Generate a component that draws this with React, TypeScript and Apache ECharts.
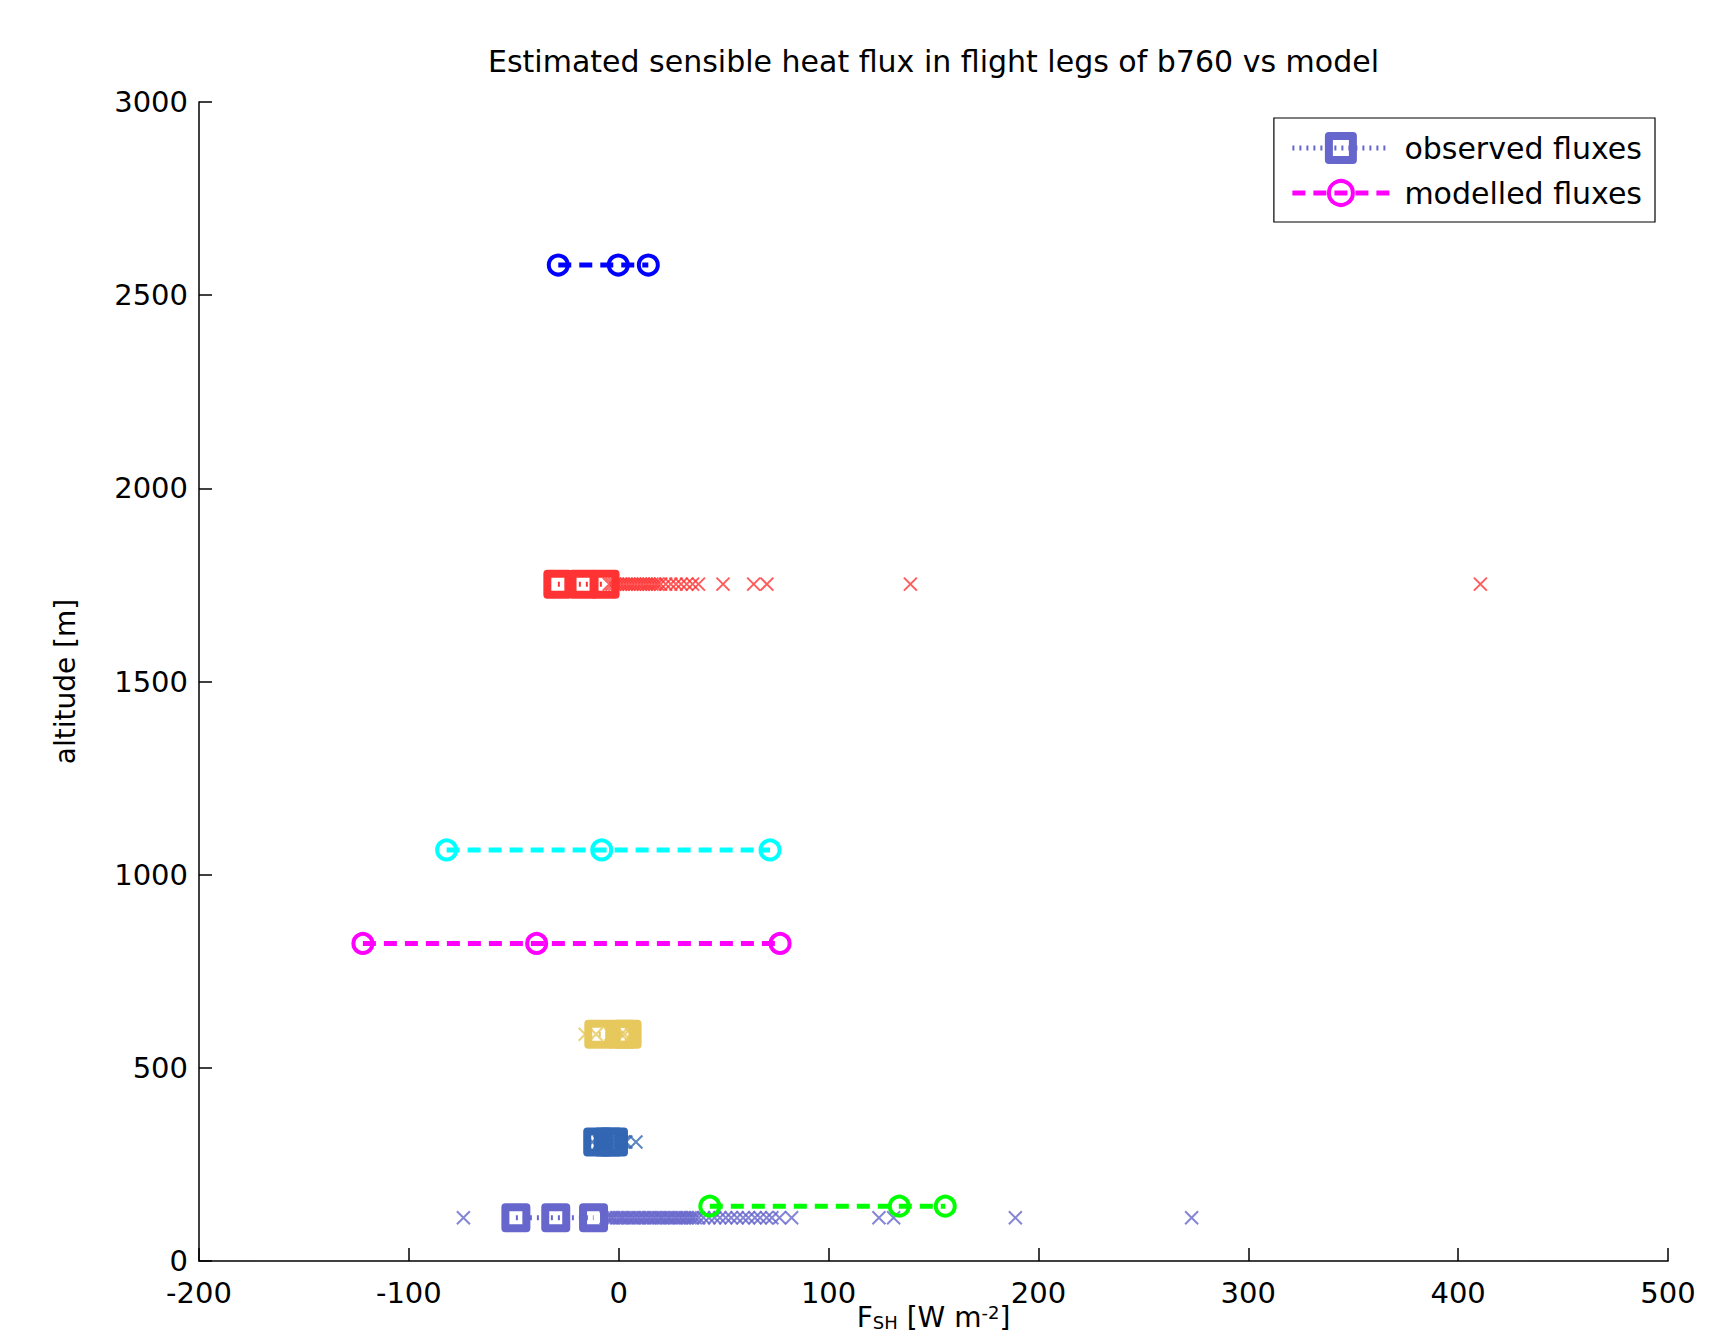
import React, { useEffect, useRef } from 'react';
import * as echarts from 'echarts';

// ---- data ----
const xMin = -200;
const xMax = 500;
const xStep = 100;
const yMin = 0;
const yMax = 3000;
const yStep = 500;

const titleText = 'Estimated sensible heat flux in flight legs of b760 vs model';
const yAxisTitle = 'altitude [m]';

// observed legs (squares joined by a dotted line, plus individual estimates as x)
const obsNames = ['observed fluxes', 'observed leg 2', 'observed leg 3', 'observed leg 4'];
const obsColors = ['#6666cc', '#3366b3', '#e6c85c', '#ff3333'];
const obsAltitudes = [112, 308, 587, 1752];
const obsSquaresLeg1 = [-49, -30, -12];
const obsSquaresLeg2 = [-10, -5, -2.5];
const obsSquaresLeg3 = [-9.5, 1.5, 4];
const obsSquaresLeg4 = [-29, -17, -6.5];

const obsPointsLeg1 = [
  -74, -6, -4.7, -3.5, -2.4, -1, 0.3, 1.5, 2.6, 4, 5.1, 6.5, 7.6, 9, 10.1, 11.5, 12.6, 14, 15.1,
  16.5, 17.6, 19, 20.2, 21.3, 22.8, 23.9, 25.1, 26.5, 27.6, 29, 30.1, 31.5, 32.6, 34, 35.2, 36.5,
  38.1, 40.4, 43, 45.7, 48.2, 51, 53.6, 56.4, 59.3, 61.8, 64.9, 67.4, 70.5, 73, 76.6, 82.4, 124, 131,
  189, 273,
];
const obsPointsLeg2 = [-12.5, -9, -7.8, -6.4, -5.3, -4.1, -2.7, -1.5, -0.2, 1.1, 2.3, 3.4, 8.2];
const obsPointsLeg3 = [-16, -10.8, -3.8, 1.2, 2.8, 6.1, 7.4];
const obsPointsLeg4 = [
  -4.5, -3.2, -1.8, -0.5, 0.9, 2.2, 3.6, 4.9, 6.3, 7.6, 9, 10.4, 11.7, 13.1, 14.4, 15.8, 17.2, 18.5,
  20, 22.4, 24.8, 27.3, 29.7, 32.4, 35.2, 38, 49.7, 64.3, 70.6, 139, 410.6,
];

// modelled legs (circles joined by a dashed line)
const modelNames = ['model leg 1', 'modelled fluxes', 'model leg 3', 'model leg 4'];
const modelColors = ['#00ff00', '#ff00ff', '#00ffff', '#0000ff'];
const modelAltitudes = [142, 822, 1064, 2578];
const modelValuesLeg1 = [43.4, 133.7, 155.6];
const modelValuesLeg2 = [-121.9, -39.1, 76.9];
const modelValuesLeg3 = [-82, -8.1, 72.1];
const modelValuesLeg4 = [-28.8, -0.2, 14.1];

const legendNames = ['observed fluxes', 'modelled fluxes'];

const obsSquares = [obsSquaresLeg1, obsSquaresLeg2, obsSquaresLeg3, obsSquaresLeg4];
const obsPoints = [obsPointsLeg1, obsPointsLeg2, obsPointsLeg3, obsPointsLeg4];
const modelValues = [modelValuesLeg1, modelValuesLeg2, modelValuesLeg3, modelValuesLeg4];

const FONT = 'DejaVu Sans';

export default function App() {
  const ref = useRef<HTMLDivElement>(null);

  useEffect(() => {
    if (!ref.current) return;
    const chart = echarts.init(ref.current, undefined, { renderer: 'svg' });

    const series: any[] = [];
    obsAltitudes.forEach((alt, i) => {
      series.push({
        type: 'line',
        name: obsNames[i],
        data: obsSquares[i].map((v) => [v, alt]),
        symbol: 'rect',
        symbolSize: 21,
        itemStyle: {
          color: 'transparent',
          borderColor: obsColors[i],
          borderWidth: 8,
          borderJoin: 'round',
        },
        lineStyle: { color: obsColors[i], width: 5, type: [2, 5] },
        z: 2,
      });
      series.push({
        type: 'scatter',
        name: obsNames[i] + ' estimates',
        data: obsPoints[i].map((v) => [v, alt]),
        symbol: 'path://M0,0L10,10M10,0L0,10',
        symbolSize: 13,
        itemStyle: { color: 'transparent', borderColor: obsColors[i], borderWidth: 2 },
        z: 3,
      });
    });
    modelAltitudes.forEach((alt, i) => {
      series.push({
        type: 'line',
        name: modelNames[i],
        data: modelValues[i].map((v) => [v, alt]),
        symbol: 'circle',
        symbolSize: 19,
        itemStyle: { color: 'transparent', borderColor: modelColors[i], borderWidth: 4 },
        lineStyle: { color: modelColors[i], width: 5, type: [13, 8] },
        z: 4,
      });
    });

    chart.setOption({
      animation: false,
      backgroundColor: '#ffffff',
      textStyle: { fontFamily: FONT },
      title: {
        text: titleText,
        left: 488,
        top: 46,
        padding: 0,
        textStyle: { fontFamily: FONT, fontSize: 30, fontWeight: 'normal', color: '#000' },
      },
      legend: {
        data: legendNames,
        orient: 'vertical',
        right: 75,
        top: 118,
        padding: [14, 13, 14, 16],
        itemGap: 14,
        itemWidth: 97,
        itemHeight: 30,
        borderColor: '#000',
        borderWidth: 1.2,
        backgroundColor: '#fff',
        textStyle: { fontFamily: FONT, fontSize: 30, color: '#000', padding: [0, 0, 0, 10] },
        itemStyle: { borderWidth: 'inherit' },
        lineStyle: { width: 'inherit', type: 'inherit' },
      },
      grid: {
        left: 199,
        top: 102,
        width: 1469,
        height: 1159,
        containLabel: false,
        outerBoundsMode: 'none',
      },
      xAxis: {
        type: 'value',
        min: xMin,
        max: xMax,
        interval: xStep,
        name: '{a|F}{s|SH}{a| [W m}{p|-2}{a|]}',
        nameLocation: 'middle',
        nameGap: 42,
        nameMoveOverlap: false,
        nameTextStyle: {
          rich: {
            a: { fontFamily: FONT, fontSize: 28, color: '#000', lineHeight: 28 },
            s: { fontFamily: FONT, fontSize: 18, color: '#000', verticalAlign: 'bottom' },
            p: { fontFamily: FONT, fontSize: 18, color: '#000', verticalAlign: 'top' },
          },
        },
        axisLine: { onZero: false, lineStyle: { color: '#000', width: 1.5 } },
        axisTick: { inside: true, length: 13, lineStyle: { color: '#000', width: 1.5 } },
        axisLabel: {
          fontFamily: FONT,
          fontSize: 29,
          lineHeight: 24,
          color: '#000',
          margin: 20,
          formatter: (v: number) => String(v),
        },
        splitLine: { show: false },
      },
      yAxis: {
        type: 'value',
        min: yMin,
        max: yMax,
        interval: yStep,
        name: yAxisTitle,
        nameLocation: 'middle',
        nameRotate: 90,
        nameGap: 120,
        nameMoveOverlap: false,
        nameTextStyle: { fontFamily: FONT, fontSize: 28, color: '#000' },
        axisLine: { show: true, onZero: false, lineStyle: { color: '#000', width: 1.5 } },
        axisTick: { show: true, inside: true, length: 13, lineStyle: { color: '#000', width: 1.5 } },
        axisLabel: {
          fontFamily: FONT,
          fontSize: 29,
          lineHeight: 20,
          color: '#000',
          margin: 11,
          formatter: (v: number) => String(v),
        },
        splitLine: { show: false },
      },
      series,
    });

    return () => chart.dispose();
  }, []);

  return (
    <div
      ref={ref}
      style={{ position: 'absolute', left: 0, top: 0, width: 1730, height: 1339, background: '#fff' }}
    />
  );
}
